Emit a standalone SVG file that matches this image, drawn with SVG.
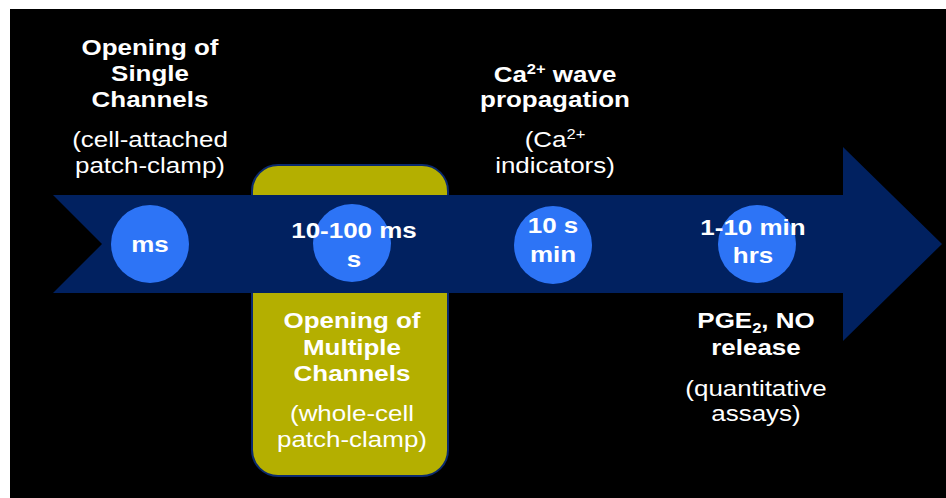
<svg xmlns="http://www.w3.org/2000/svg" width="946" height="498" viewBox="0 0 946 498">
  <style>
    .bg { fill: #000000; }
    .band { fill: #012160; }
    .box { fill: #B4AF00; stroke: #0B2A6E; stroke-width: 2; }
    .dot { fill: #2D74F6; }
    text { font-family: "Liberation Sans", Arial, sans-serif; font-size: 22px; fill: #FFFFFF; text-anchor: middle; }
    .b { font-weight: bold; }
    .sup { font-size: 14px; }
  </style>

  <rect x="0" y="0" width="946" height="498" fill="#FFFFFF"/>
  <rect class="bg" x="10" y="9" width="936" height="489"/>

  <!-- highlight box behind the time axis -->
  <g id="node-multiple-box">
    <rect class="box" x="252" y="165" width="196" height="311" rx="26" ry="26"/>
  </g>

  <!-- time axis arrow -->
  <g id="connectors">
    <polygon class="band" points="53,195 843,195 843,147 942,244 843,341 843,293 53,293 102,244"/>
  </g>

  <g id="node-ms">
    <circle class="dot" cx="150" cy="244" r="39"/>
    <g transform="translate(150 0) scale(1.18 1)">
      <text class="b" x="0" y="252">ms</text>
    </g>
  </g>

  <g id="node-10-100ms">
    <circle class="dot" cx="352" cy="243" r="39"/>
    <g transform="translate(354 0) scale(1.18 1)">
      <text class="b" x="0" y="238">10-100 ms</text>
      <text class="b" x="0" y="267">s</text>
    </g>
  </g>

  <g id="node-10s">
    <circle class="dot" cx="553" cy="245" r="39"/>
    <g transform="translate(553 0) scale(1.18 1)">
      <text class="b" x="0" y="233">10 s</text>
      <text class="b" x="0" y="262">min</text>
    </g>
  </g>

  <g id="node-1-10min">
    <circle class="dot" cx="757" cy="244" r="39"/>
    <g transform="translate(753 0) scale(1.18 1)">
      <text class="b" x="0" y="235">1-10 min</text>
      <text class="b" x="0" y="263">hrs</text>
    </g>
  </g>

  <g id="node-single-channels">
    <g transform="translate(150 0) scale(1.18 1)">
      <text class="b" x="0" y="55">Opening of</text>
      <text class="b" x="0" y="81">Single</text>
      <text class="b" x="0" y="107">Channels</text>
      <text x="0" y="147">(cell-attached</text>
      <text x="0" y="173">patch-clamp)</text>
    </g>
  </g>

  <g id="node-multiple-channels">
    <g transform="translate(352 0) scale(1.18 1)">
      <text class="b" x="0" y="328">Opening of</text>
      <text class="b" x="0" y="355">Multiple</text>
      <text class="b" x="0" y="381">Channels</text>
      <text x="0" y="421">(whole-cell</text>
      <text x="0" y="447">patch-clamp)</text>
    </g>
  </g>

  <g id="node-ca-wave">
    <g transform="translate(555 0) scale(1.18 1)">
      <text class="b" x="0" y="82">Ca<tspan class="sup" dy="-8">2+</tspan><tspan dy="8"> wave</tspan></text>
      <text class="b" x="0" y="107">propagation</text>
      <text x="0" y="147">(Ca<tspan class="sup" dy="-8">2+</tspan></text>
      <text x="0" y="173">indicators)</text>
    </g>
  </g>

  <g id="node-pge2-no">
    <g transform="translate(756 0) scale(1.18 1)">
      <text class="b" x="0" y="328">PGE<tspan class="sup" dy="5">2</tspan><tspan dy="-5">, NO</tspan></text>
      <text class="b" x="0" y="355">release</text>
      <text x="0" y="396">(quantitative</text>
      <text x="0" y="421">assays)</text>
    </g>
  </g>
</svg>
